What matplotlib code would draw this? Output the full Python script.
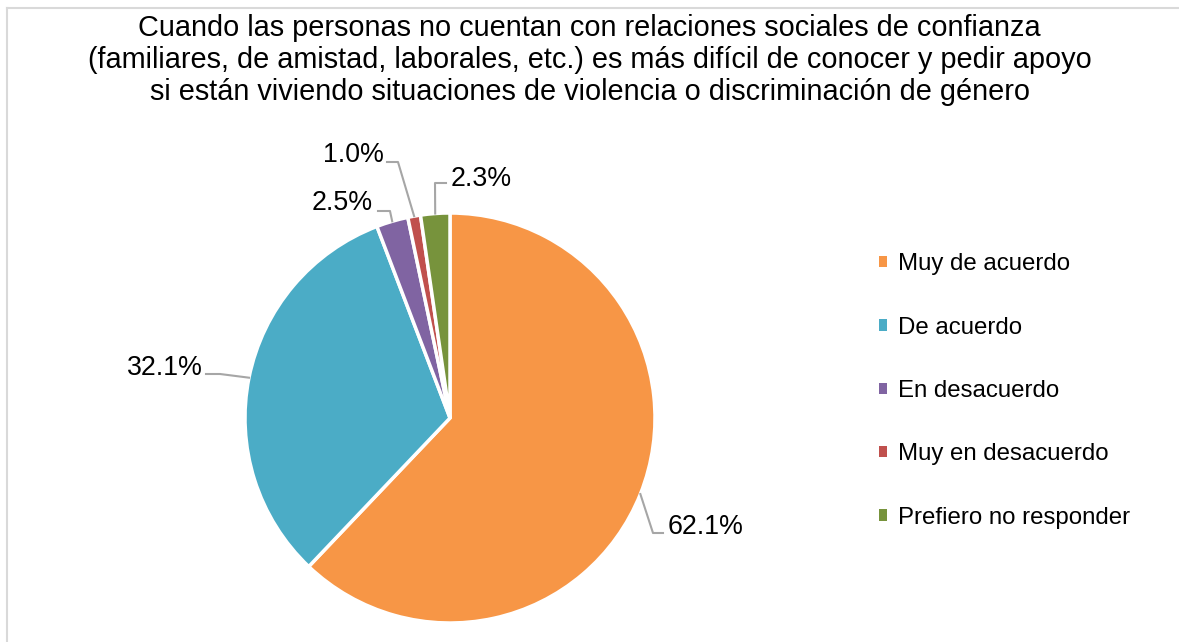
"""Pie chart: apoyo ante violencia o discriminación de género."""
import matplotlib
matplotlib.use("Agg")
import numpy as np
import matplotlib.pyplot as plt
from matplotlib.patches import Patch
from matplotlib.lines import Line2D

plt.rcParams["font.family"] = ["Liberation Sans", "DejaVu Sans"]

# Data
categories = ["Muy de acuerdo", "De acuerdo", "En desacuerdo",
              "Muy en desacuerdo", "Prefiero no responder"]
values = [62.1, 32.1, 2.5, 1.0, 2.3]
colors = ["#F79646", "#4BACC6", "#8064A2", "#C0504D", "#77933C"]
title = ("Cuando las personas no cuentan con relaciones sociales de confianza\n"
         "(familiares, de amistad, laborales, etc.) es más difícil de conocer y pedir apoyo\n"
         "si están viviendo situaciones de violencia o discriminación de género")

# label layout (pixels in the 1179x642 canvas): text anchor, elbow, text side
label_pos = [(668, 527, "left"), (203, 368, "right"), (373, 203, "right"),
             (384, 155, "right"), (451, 179, "left")]
elbows = [[(653, 533), (663, 533)], [(220, 374), (206, 374)],
          [(390, 211), (378, 211)], [(398, 162), (387, 162)],
          [(435, 183), (446, 183)]]

W, H = 1179, 642
fig = plt.figure(figsize=(W / 100, H / 100), dpi=100)

# chart border (Excel chart area)
fig.add_artist(Line2D([7 / W, 7 / W], [0, 1 - 8 / H], color="#D9D9D9", lw=1.5))
fig.add_artist(Line2D([7 / W, 1], [1 - 8 / H, 1 - 8 / H], color="#D9D9D9", lw=1.5))

fig.text(0.5, 1 - 60 / H, title, ha="center", va="center", fontsize=20.8,
         linespacing=1.17, color="#000000")

cx, cy, r = 450, 418, 205
ax = fig.add_axes([(cx - r) / W, (H - cy - r) / H, 2 * r / W, 2 * r / H])
wedges, _ = ax.pie(values, colors=colors, startangle=90, counterclock=False,
                   radius=1.0, wedgeprops=dict(edgecolor="white", linewidth=2.5))
ax.set_xlim(-1, 1)
ax.set_ylim(-1, 1)
ax.set_aspect("equal")
ax.axis("off")


def to_data(px, py):
    return (px - cx) / r, (cy - py) / r


for w, v, (tx, ty, ha), elb in zip(wedges, values, label_pos, elbows):
    ang = np.deg2rad((w.theta1 + w.theta2) / 2)
    pts = [(np.cos(ang), np.sin(ang))] + [to_data(*p) for p in elb]
    xs, ys = zip(*pts)
    ax.plot(xs, ys, color="#A6A6A6", lw=1.5, clip_on=False)
    dx, dy = to_data(tx, ty)
    ax.text(dx, dy, f"{v:.1f}%", ha=ha, va="center", fontsize=19.3,
            color="#000000", clip_on=False)

handles = [Patch(facecolor=c, edgecolor="none") for c in colors]
fig.legend(handles, categories, loc="center left",
           bbox_to_anchor=(857 / W, 1 - 391 / H), frameon=False, fontsize=17.3,
           handlelength=0.35, handleheight=0.35, handletextpad=0.45,
           labelspacing=1.72)

fig.savefig("out.png", dpi=100)
